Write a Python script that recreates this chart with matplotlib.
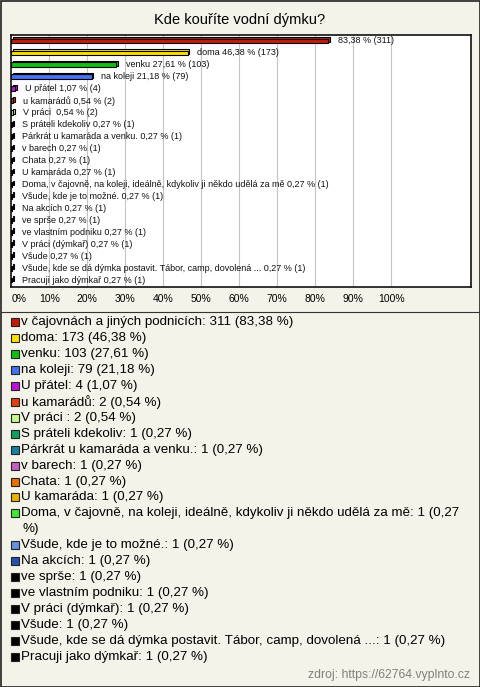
import matplotlib
matplotlib.use("Agg")
import matplotlib.pyplot as plt
from matplotlib.patches import Rectangle
from matplotlib.transforms import offset_copy

plt.rcParams['font.family'] = ['Liberation Sans', 'DejaVu Sans']

# data
title = "Kde kouříte vodní dýmku?"
total = 373
names = [
    "v čajovnách a jiných podnicích", "doma", "venku", "na koleji", "U přátel",
    "u kamarádů", "V práci ", "S práteli kdekoliv", "Párkrát u kamaráda a venku.",
    "v barech", "Chata", "U kamaráda",
    "Doma, v čajovně, na koleji, ideálně, kdykoliv ji někdo udělá za mě",
    "Všude, kde je to možné.", "Na akcích", "ve sprše", "ve vlastním podniku",
    "V práci (dýmkař)", "Všude",
    "Všude, kde se dá dýmka postavit. Tábor, camp, dovolená ...",
    "Pracuji jako dýmkař",
]
counts = [311, 173, 103, 79, 4, 2, 2, 1, 1, 1, 1, 1, 1, 1, 1, 1, 1, 1, 1, 1, 1]
colors = [
    "#c01e0c", "#f8e000", "#10c010", "#4870f0", "#c010d8", "#e04010", "#c8f890",
    "#10a060", "#1880a0", "#c060c0", "#e87000", "#e8b000", "#40e830", "#6890e0",
    "#2850b0", "#000000", "#000000", "#000000", "#000000", "#000000", "#000000",
]
xticks = [0, 10, 20, 30, 40, 50, 60, 70, 80, 90, 100]
source = "zdroj: https://62764.vyplnto.cz"

pcts = [c / total * 100 for c in counts]
fmt = lambda p: f"{p:.2f}".replace(".", ",")

bg = "#f4f3ea"
fig = plt.figure(figsize=(4.8, 6.87), dpi=100, facecolor=bg)

# bar chart area
ax = fig.add_axes([10.7 / 480, 1 - 287 / 687, 460 / 480, 252 / 687])
ax.set_facecolor("white")
ypos = list(range(len(names)))
ax.set_xlim(-0.16, 120.9)
ax.set_ylim(20.58, -0.5)
for t in xticks[1:]:
    ax.axvline(t, color="#c4c4c4", lw=0.8, zorder=0)

back = offset_copy(ax.transData, fig=fig, x=1.5, y=1.5, units="dots")
ax.barh(ypos, pcts, height=0.4, color=colors, edgecolor="black", lw=0.8,
        transform=back, zorder=2)
ax.barh(ypos, pcts, height=0.4, color=colors, edgecolor="black", lw=0.8, zorder=3)

for i, (n, c, p) in enumerate(zip(names, counts, pcts)):
    txt = f"{fmt(p)} % ({c})" if i == 0 else f"{n} {fmt(p)} % ({c})"
    ax.annotate(txt, (p, i), xytext=(6.8, 0), textcoords="offset points",
                va="center", ha="left", fontsize=6.5, color="#111111", zorder=4)

ax.set_xticks(xticks)
ax.set_xticklabels([f"{t}%" for t in xticks], fontsize=7.5)
ax.get_xticklabels()[0].set_ha("left")
ax.tick_params(axis="x", length=0, pad=5)
ax.set_yticks([])
for s in ax.spines.values():
    s.set_linewidth(1.2)
    s.set_color("#111111")

# overlay in pixel coordinates
ov = fig.add_axes([0, 0, 1, 1], facecolor="none")
ov.set_xlim(0, 480)
ov.set_ylim(687, 0)
ov.axis("off")
ov.add_patch(Rectangle((0.5, 0.5), 479, 686, fill=False, ec="#222222", lw=1.2))
ov.text(240, 20, title, ha="center", va="center", fontsize=10.5)
ov.plot([0.5, 479.5], [311.5, 311.5], color="#333333", lw=0.8)

line = 0
for n, c, p, col in zip(names, counts, pcts, colors):
    y = 322 + 15.95 * line
    ov.add_patch(Rectangle((11, y - 4), 8, 8, fc=col, ec="#222222", lw=0.8))
    label = f"{n}: {c} ({fmt(p)} %)"
    parts = label.replace(" %)", "\n%)").split("\n") if len(label) > 75 else [label]
    for k, part in enumerate(parts):
        ov.text(20.7 + (2 if k else 0), y + 15.95 * k, part, ha="left",
                va="center", fontsize=9.6)
    line += len(parts)

ov.text(470, 675, source, ha="right", va="center", fontsize=8.8, color="#808080")

fig.savefig("out.png", dpi=100, facecolor=bg)
